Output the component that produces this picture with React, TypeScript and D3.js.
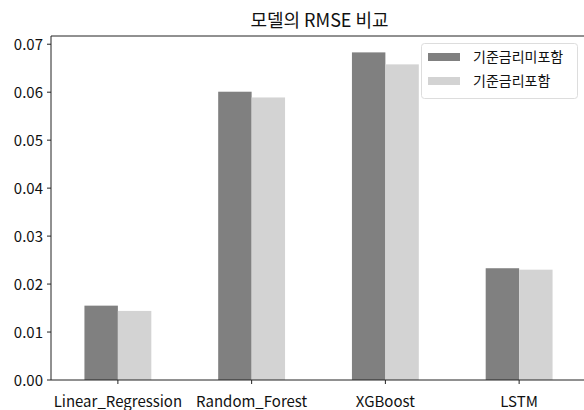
import React from "react";
import * as d3 from "d3";

const categories = ["Linear_Regression", "Random_Forest", "XGBoost", "LSTM"];
const seriesNames = ["기준금리미포함", "기준금리포함"];
const withoutRate = [0.0155, 0.0601, 0.0683, 0.0233];
const withRate = [0.0144, 0.0589, 0.0658, 0.0230];
const yTicks = [0, 0.01, 0.02, 0.03, 0.04, 0.05, 0.06, 0.07];
const colors = ["#808080", "#d3d3d3"];

const W = 584;
const H = 410;
const left = 51;
const right = 586;
const top = 36;
const bottom = 380;
const font = "'Noto Sans CJK KR', 'Noto Sans', sans-serif";

export default function App() {
  const series = [withoutRate, withRate];
  const ymax = d3.max([...withoutRate, ...withRate])! * 1.05;
  const x = d3.scaleLinear().domain([-0.5, categories.length - 0.5]).range([left, right]);
  const y = d3.scaleLinear().domain([0, ymax]).range([bottom, top]);
  const barW = 0.25;
  return (
    <svg width={W} height={H} style={{ position: "absolute", left: 0, top: 0, background: "#fff" }} fontFamily={font}>
      <text x={(left + right) / 2 + 1} y={27} textAnchor="middle" fontSize={18} fill="#111">
        모델의 RMSE 비교
      </text>
      {series.map((vals, si) =>
        vals.map((v, i) => {
          const x0 = x(i - barW + si * barW);
          const x1 = x(i + si * barW);
          return (
            <rect key={`${si}-${i}`} x={x0} y={y(v)} width={x1 - x0} height={bottom - y(v)} fill={colors[si]} />
          );
        })
      )}
      <line x1={left} x2={left} y1={top} y2={bottom} stroke="#222" strokeWidth={1} />
      <line x1={left} x2={W} y1={bottom} y2={bottom} stroke="#222" strokeWidth={1} />
      <line x1={left} x2={W} y1={top} y2={top} stroke="#222" strokeWidth={1} />
      {yTicks.map((t) => (
        <g key={t}>
          <line x1={left - 4} x2={left} y1={y(t)} y2={y(t)} stroke="#222" />
          <text x={left - 8} y={y(t) + 5.5} textAnchor="end" fontSize={15} fill="#111">
            {t.toFixed(2)}
          </text>
        </g>
      ))}
      {categories.map((c, i) => (
        <g key={c}>
          <line x1={x(i)} x2={x(i)} y1={bottom} y2={bottom + 4} stroke="#222" />
          <text x={x(i)} y={bottom + 27} textAnchor="middle" fontSize={15} fill="#111">
            {c}
          </text>
        </g>
      ))}
      <rect x={421.5} y={43.5} width={156} height={55} rx={3} fill="#fff" fillOpacity={0.8} stroke="#ddd" />
      {seriesNames.map((n, i) => (
        <g key={n}>
          <rect x={428} y={53 + i * 24} width={32} height={8} fill={colors[i]} />
          <text x={473} y={62 + i * 24} fontSize={14} fill="#111">
            {n}
          </text>
        </g>
      ))}
    </svg>
  );
}
